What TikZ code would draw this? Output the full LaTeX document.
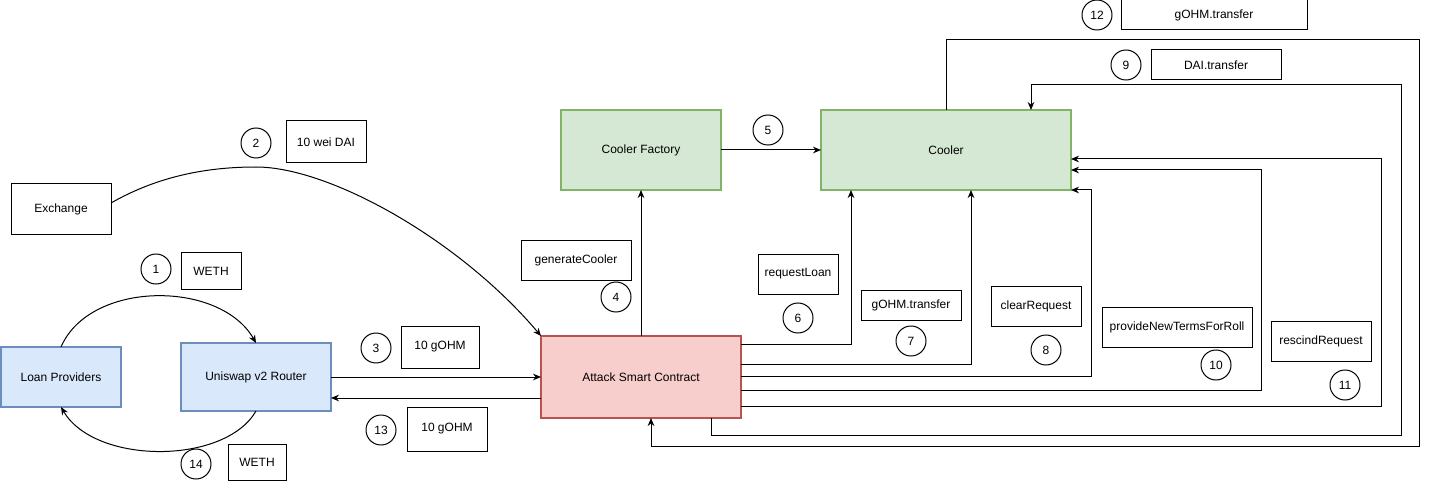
\documentclass[tikz,border=0pt]{standalone}
\usepackage{fontspec}
\setmainfont{Liberation Sans}
\usetikzlibrary{arrows.meta,calc}
\definecolor{bfill}{HTML}{DAE8FC}\definecolor{bdraw}{HTML}{6C8EBF}
\definecolor{gfill}{HTML}{D5E8D4}\definecolor{gdraw}{HTML}{82B366}
\definecolor{rfill}{HTML}{F8CECC}\definecolor{rdraw}{HTML}{B85450}
\begin{document}
\begin{tikzpicture}[x=0.75pt,y=-0.75pt,
  every node/.style={font=\fontsize{9}{11}\selectfont, inner sep=0pt, outer sep=0pt, align=center},
  sz/.style 2 args={minimum width=#1*0.75pt, minimum height=#2*0.75pt},
  lbl/.style={draw, line width=0.75pt, fill=white},
  plain/.style={draw, line width=0.75pt},
  blu/.style={draw=bdraw, fill=bfill, line width=1.5pt},
  grn/.style={draw=gdraw, fill=gfill, line width=1.5pt},
  rd/.style={draw=rdraw, fill=rfill, line width=1.5pt},
  num/.style={draw, circle, line width=0.75pt, minimum size=30*0.75pt},
  conn/.style={line width=0.75pt},
  arr/.style={conn, -{Stealth[length=6pt,width=5pt]}}]
\fill[white] (0,0) rectangle (1431,481);
\useasboundingbox (0,0) rectangle (1431,481);
% main nodes
\node[blu, sz={120}{60}] (lp) at (61,377) {Loan Providers};
\node[blu, sz={150}{68}] (ur) at (256,377) {Uniswap v2 Router};
\node[plain, sz={100}{50}] (ex) at (61,209) {Exchange};
\node[rd, sz={200}{82}] (att) at (641,377) {Attack Smart Contract};
\node[grn, sz={160}{80}] (cf) at (641,150) {Cooler Factory};
\node[grn, sz={250}{80}] (cool) at (946,150) {Cooler};
% label boxes
\node[lbl, sz={60}{37}] (l1) at (211,271) {WETH};
\node[lbl, sz={80}{42}] (l2) at (326,142) {10 wei DAI};
\node[lbl, sz={78}{42}] (l3) at (440,347) {10 gOHM};
\node[lbl, sz={110}{40}] (l4) at (576,260) {generateCooler};
\node[lbl, sz={80}{40}] (l6) at (798,274) {requestLoan};
\node[lbl, sz={100}{30}] (l7) at (911,305) {gOHM.transfer};
\node[lbl, sz={90}{40}] (l8) at (1036,306) {clearRequest};
\node[lbl, sz={130}{30}] (l9) at (1216,65) {DAI.transfer};
\node[lbl, sz={150}{40}] (l10) at (1177,327) {provideNewTermsForRoll};
\node[lbl, sz={100}{40}] (l11) at (1321,341) {rescindRequest};
\node[lbl, sz={186}{30}] (l12) at (1214,15) {gOHM.transfer};
\node[lbl, sz={80}{44}] (l13) at (447,429) {10 gOHM};
\node[lbl, sz={58}{36}] (l14) at (257,462) {WETH};
% number circles
\node[num] (c1) at (156,269) {1};
\node[num] (c2) at (256,143) {2};
\node[num] (c3) at (376,348) {3};
\node[num] (c4) at (616,297) {4};
\node[num] (c5) at (768,130) {5};
\node[num] (c6) at (798,318) {6};
\node[num] (c7) at (911,341) {7};
\node[num] (c8) at (1046,350) {8};
\node[num] (c9) at (1126,65) {9};
\node[num] (c10) at (1216,365) {10};
\node[num] (c11) at (1345,385) {11};
\node[num] (c12) at (1097,15) {12};
\node[num] (c13) at (381,430) {13};
\node[num] (c14) at (196,464) {14};
% coordinates for routed connectors
\coordinate (d1) at (1401,435);
\coordinate (d2) at (1401,85);
\coordinate (g1) at (1419,40);
\coordinate (g2) at (1419,446);
% connectors
\draw[arr] (lp.north) .. controls (90,280) and (220,280) .. (ur.north);
\draw[arr] (ur.south) .. controls (225,465) and (95,465) .. (lp.south);
\draw[arr] ($(ex.east)+(0,-6)$) .. controls (160,175) and (210,167) .. (256,167) .. controls (330,167) and (460,240) .. (att.north west);
\draw[arr] (ur.east) -- (att.west);
\draw[arr] ($(att.west)+(0,21)$) -- ($(ur.east)+(0,21)$);
\draw[arr] (att.north) -- (cf.south);
\draw[arr] (cf.east) -- (cool.west);
\draw[arr] ($(att.east)+(0,-33)$) -| ($(cool.south)+(-95,0)$);
\draw[arr] ($(att.east)+(0,-13)$) -| ($(cool.south)+(25,0)$);
\draw[arr] ($(att.east)+(0,-1)$) -| ($(cool.south east)+(20,0)$) -- (cool.south east);
\draw[arr] ($(att.east)+(0,13)$) -| ($(cool.east)+(190,20)$) -- ($(cool.east)+(0,20)$);
\draw[arr] ($(att.east)+(0,29)$) -| ($(cool.east)+(310,9)$) -- ($(cool.east)+(0,9)$);
\draw[arr] ($(att.south)+(70,0)$) |- (d1) -- (d2) -| ($(cool.north)+(85,0)$);
\draw[arr] (cool.north) |- (g1) -- (g2) -| ($(att.south)+(10,0)$);
\end{tikzpicture}
\end{document}
